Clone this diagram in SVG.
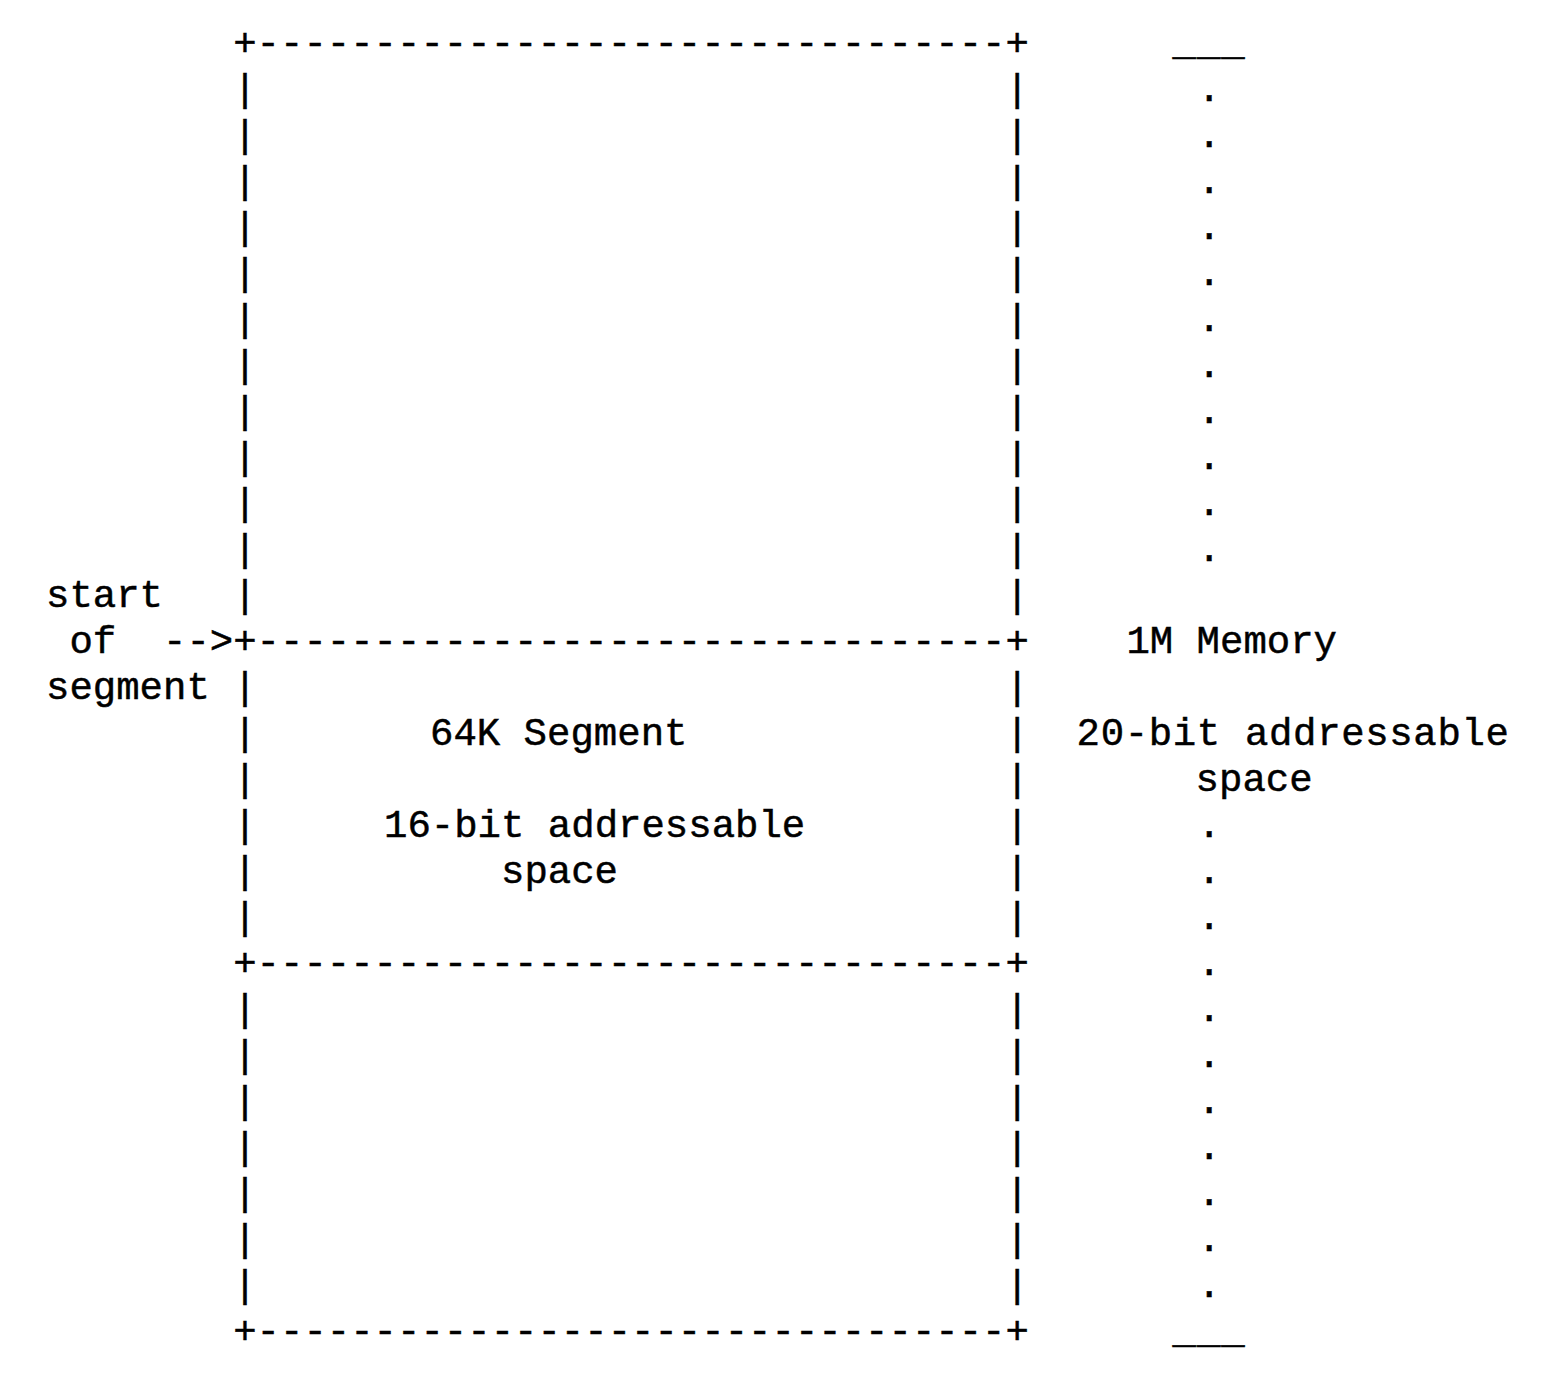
<svg xmlns="http://www.w3.org/2000/svg" width="1544" height="1388" viewBox="0 0 1544 1388">
<style>
text{font-family:"Liberation Mono","DejaVu Sans Mono",monospace;font-size:39px;fill:#000;stroke:#000;stroke-width:0.5;white-space:pre}
.l{}
.r{}
</style>
<rect width="1544" height="1388" fill="#fff"/>
<g id="segment-box">
<text x="233.2" y="55">+--------------------------------+</text>
<text x="233.2" y="653">+--------------------------------+</text>
<text x="233.2" y="975">+--------------------------------+</text>
<text x="233.2" y="1343">+--------------------------------+</text>
<g class="l">
<text x="233.2" y="101">|</text><text x="233.2" y="147">|</text><text x="233.2" y="193">|</text><text x="233.2" y="239">|</text>
<text x="233.2" y="285">|</text><text x="233.2" y="331">|</text><text x="233.2" y="377">|</text><text x="233.2" y="423">|</text>
<text x="233.2" y="469">|</text><text x="233.2" y="515">|</text><text x="233.2" y="561">|</text><text x="233.2" y="607">|</text>
<text x="233.2" y="699">|</text><text x="233.2" y="745">|</text><text x="233.2" y="791">|</text><text x="233.2" y="837">|</text>
<text x="233.2" y="883">|</text><text x="233.2" y="929">|</text>
<text x="233.2" y="1021">|</text><text x="233.2" y="1067">|</text><text x="233.2" y="1113">|</text><text x="233.2" y="1159">|</text>
<text x="233.2" y="1205">|</text><text x="233.2" y="1251">|</text><text x="233.2" y="1297">|</text>
</g>
<g class="r">
<text x="1005.4" y="101">|</text><text x="1005.4" y="147">|</text><text x="1005.4" y="193">|</text><text x="1005.4" y="239">|</text>
<text x="1005.4" y="285">|</text><text x="1005.4" y="331">|</text><text x="1005.4" y="377">|</text><text x="1005.4" y="423">|</text>
<text x="1005.4" y="469">|</text><text x="1005.4" y="515">|</text><text x="1005.4" y="561">|</text><text x="1005.4" y="607">|</text>
<text x="1005.4" y="699">|</text><text x="1005.4" y="745">|</text><text x="1005.4" y="791">|</text><text x="1005.4" y="837">|</text>
<text x="1005.4" y="883">|</text><text x="1005.4" y="929">|</text>
<text x="1005.4" y="1021">|</text><text x="1005.4" y="1067">|</text><text x="1005.4" y="1113">|</text><text x="1005.4" y="1159">|</text>
<text x="1005.4" y="1205">|</text><text x="1005.4" y="1251">|</text><text x="1005.4" y="1297">|</text>
</g>
</g>
<g id="segment-labels">
<text x="430" y="745">64K Segment</text>
<text x="384" y="837">16-bit addressable</text>
<text x="501" y="883">space</text>
</g>
<g id="start-label">
<text x="46" y="607">start</text>
<text x="69.4" y="653">of</text>
<text x="46" y="699">segment</text>
</g>
<g id="connectors">
<text x="163" y="653">--&gt;</text>
</g>
<g id="memory-column">
<text x="1172.5" y="55" letter-spacing="1">___</text>
<text x="1197.6" y="101">.</text>
<text x="1197.6" y="147">.</text>
<text x="1197.6" y="193">.</text>
<text x="1197.6" y="239">.</text>
<text x="1197.6" y="285">.</text>
<text x="1197.6" y="331">.</text>
<text x="1197.6" y="377">.</text>
<text x="1197.6" y="423">.</text>
<text x="1197.6" y="469">.</text>
<text x="1197.6" y="515">.</text>
<text x="1197.6" y="561">.</text>
<text x="1126.4" y="653">1M Memory</text>
<text x="1076.6" y="745" letter-spacing="0.65">20-bit addressable</text>
<text x="1195.6" y="791">space</text>
<text x="1197.6" y="837">.</text>
<text x="1197.6" y="883">.</text>
<text x="1197.6" y="929">.</text>
<text x="1197.6" y="975">.</text>
<text x="1197.6" y="1021">.</text>
<text x="1197.6" y="1067">.</text>
<text x="1197.6" y="1113">.</text>
<text x="1197.6" y="1159">.</text>
<text x="1197.6" y="1205">.</text>
<text x="1197.6" y="1251">.</text>
<text x="1197.6" y="1297">.</text>
<text x="1172.5" y="1343" letter-spacing="1">___</text>
</g>
</svg>
